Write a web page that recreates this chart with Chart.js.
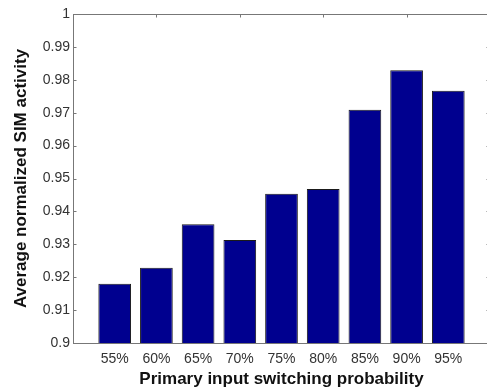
<!DOCTYPE html>
<html>
<head>
<meta charset="utf-8">
<script src="https://cdn.jsdelivr.net/npm/chart.js@4/dist/chart.umd.min.js"></script>
<style>
html, body { margin: 0; padding: 0; overflow: hidden; background: #fff; width: 487px; height: 388px; }
#wrap { position: absolute; left: 0; top: 0; width: 500px; height: 388px; }
</style>
</head>
<body>
<div id="wrap"><canvas id="c"></canvas></div>
<script>
const categories = ['55%', '60%', '65%', '70%', '75%', '80%', '85%', '90%', '95%'];
const activity = [0.918, 0.9229, 0.9361, 0.9313, 0.9454, 0.9468, 0.9709, 0.9829, 0.9767];
const yMin = 0.9, yMax = 1, yStep = 0.01;
const xTitle = 'Primary input switching probability';
const yTitle = 'Average normalized SIM activity';

const points = activity.map((v, i) => ({ x: i + 1, y: v }));

const boxTicks = {
  id: 'boxTicks',
  beforeDatasetsDraw(chart) {
    const { ctx, chartArea: a, scales: { x, y } } = chart;
    ctx.save();
    ctx.strokeStyle = '#777';
    ctx.lineWidth = 1;
    const L = 3.5;
    ctx.beginPath();
    y.ticks.forEach(t => {
      const py = Math.round(y.getPixelForValue(t.value)) + 0.5;
      ctx.moveTo(a.left, py); ctx.lineTo(a.left + L, py);
      ctx.moveTo(a.right, py); ctx.lineTo(a.right - L, py);
    });
    x.ticks.forEach(t => {
      if (t.value > 0 && t.value < categories.length + 1 && t.value % 2 === 0) {
        const px = Math.round(x.getPixelForValue(t.value)) + 0.5;
        ctx.moveTo(px, a.top); ctx.lineTo(px, a.top + L);
        ctx.moveTo(px, a.bottom); ctx.lineTo(px, a.bottom - L);
      }
    });
    ctx.stroke();
    ctx.beginPath();
    ctx.rect(Math.round(a.left) + 0.5, Math.round(a.top) + 0.5, Math.round(a.right - a.left), Math.round(a.bottom - a.top));
    ctx.stroke();
    ctx.restore();
  }
};

new Chart(document.getElementById('c'), {
  type: 'bar',
  data: {
    datasets: [{
      data: points,
      backgroundColor: '#00008F',
      borderColor: '#1a1a1a',
      borderWidth: 1,
      borderSkipped: false,
      barPercentage: 0.98,
      categoryPercentage: 0.8
    }]
  },
  options: {
    responsive: true,
    maintainAspectRatio: false,
    animation: false,
    layout: { padding: { top: 14, right: 10, left: 0, bottom: 0 } },
    plugins: { legend: { display: false }, tooltip: { enabled: false } },
    scales: {
      x: {
        type: 'linear',
        min: 0,
        max: categories.length + 1,
        offset: false,
        grid: { display: false, drawTicks: false },
        border: { display: false },
        afterFit(s) { s.height = 45; },
        afterBuildTicks(s) {
          s.ticks = [];
          for (let v = 0; v <= categories.length + 1; v++) s.ticks.push({ value: v });
        },
        ticks: {
          autoSkip: false,
          maxRotation: 0,
          padding: 8,
          color: '#333',
          font: { family: 'Liberation Sans, Arial, sans-serif', size: 14 },
          callback: (v) => categories[v - 1] || ''
        },
        title: {
          display: true,
          text: xTitle,
          color: '#111',
          padding: { top: 0, bottom: -2 },
          font: { family: 'Liberation Sans, Arial, sans-serif', size: 17, weight: 'bold' }
        }
      },
      y: {
        min: yMin,
        max: yMax,
        grid: { display: false, drawTicks: false },
        border: { display: false },
        afterFit(s) { s.width = 73; },
        ticks: {
          stepSize: yStep,
          padding: 3,
          color: '#333',
          font: { family: 'Liberation Sans, Arial, sans-serif', size: 14 },
          callback: (v) => String(Number(v.toFixed(2)))
        },
        title: {
          display: true,
          text: yTitle,
          color: '#111',
          padding: { top: 11, bottom: 0 },
          font: { family: 'Liberation Sans, Arial, sans-serif', size: 17, weight: 'bold' }
        }
      }
    }
  },
  plugins: [boxTicks]
});
</script>
</body>
</html>
